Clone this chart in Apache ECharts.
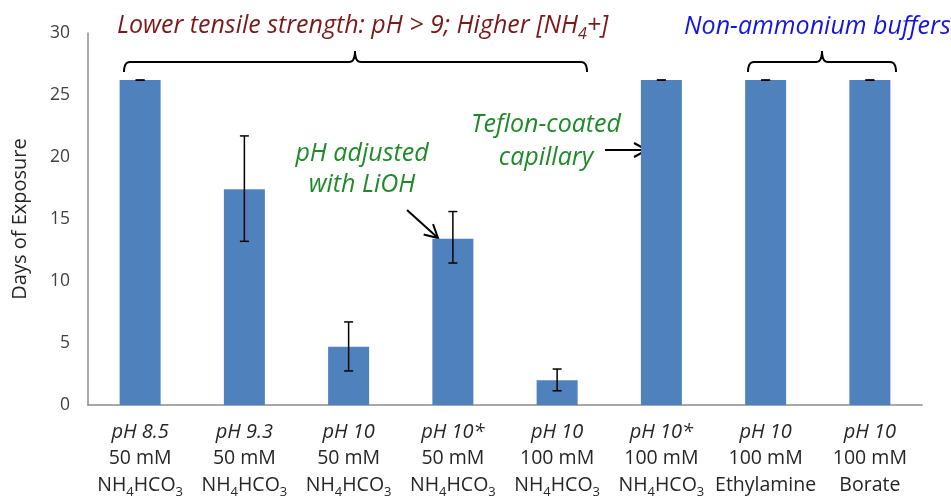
<!DOCTYPE html>
<html><head><meta charset="utf-8">
<script src="https://cdn.jsdelivr.net/npm/echarts@6/dist/echarts.min.js"></script>
<style>html,body{margin:0;padding:0;background:#fff}#c{width:951px;height:496px}</style>
</head><body><div id="c"></div>
<script>
const phLabels = ['pH 8.5','pH 9.3','pH 10','pH 10*','pH 10','pH 10*','pH 10','pH 10'];
const concLabels = ['50 mM','50 mM','50 mM','50 mM','100 mM','100 mM','100 mM','100 mM'];
const bufferLabels = ['NH4HCO3','NH4HCO3','NH4HCO3','NH4HCO3','NH4HCO3','NH4HCO3','Ethylamine','Borate'];
const days = [26.2, 17.4, 4.7, 13.4, 2.0, 26.2, 26.2, 26.2];
const errLow = [26.2, 13.2, 2.75, 11.45, 1.15, 26.2, 26.2, 26.2];
const errHigh = [26.2, 21.7, 6.7, 15.6, 2.9, 26.2, 26.2, 26.2];
const yTicks = [0, 5, 10, 15, 20, 25, 30];

const FONT = '"Open Sans", Lato, sans-serif';
const categories = phLabels.map((p, i) => p + '|' + i);

function bufferRich(b) {
  if (b === 'NH4HCO3') return '{n|NH}{s|4}{n|HCO}{s|3}';
  return '{n|' + b + '}';
}

const chart = echarts.init(document.getElementById('c'), null, {renderer: 'canvas'});

function arrow(x1, y1, x2, y2) {
  const dx = x2 - x1, dy = y2 - y1, L = Math.hypot(dx, dy);
  const ux = dx / L, uy = dy / L, px = -uy, py = ux;
  const hl = 13, hw = 7;
  return [
    {type: 'line', shape: {x1, y1, x2, y2}, style: {stroke: '#000', lineWidth: 2}},
    {type: 'polyline', shape: {points: [[x2 - ux*hl + px*hw, y2 - uy*hl + py*hw], [x2, y2], [x2 - ux*hl - px*hw, y2 - uy*hl - py*hw]]},
     style: {stroke: '#000', lineWidth: 2, fill: null}}
  ];
}
function quad(p0, c, p1, n) {
  const pts = [];
  for (let k = 0; k <= n; k++) {
    const t = k / n, a = (1-t)*(1-t), b = 2*(1-t)*t, d = t*t;
    pts.push([a*p0[0] + b*c[0] + d*p1[0], a*p0[1] + b*c[1] + d*p1[1]]);
  }
  return pts;
}
function brace(xa, xb, xm, yl, yt, ye) {
  const pts = [].concat(
    quad([xa, ye], [xa, yl], [xa+6, yl], 8),
    quad([xm-6, yl], [xm, yl], [xm, yt], 8),
    quad([xm, yt], [xm, yl], [xm+6, yl], 8),
    quad([xb-6, yl], [xb, yl], [xb, ye], 8)
  );
  return {type: 'polyline', shape: {points: pts}, style: {stroke: '#000', lineWidth: 2, fill: null}};
}
function txt(text, x, y, color, align, extra) {
  return {type: 'text', style: Object.assign({
    text, x, y, fill: color, fontSize: 25, fontStyle: 'italic', fontFamily: FONT,
    align: align, textAlign: align, verticalAlign: 'middle', textVerticalAlign: 'middle', lineHeight: 31
  }, extra || {})};
}

const option = {
  animation: false,
  backgroundColor: '#fff',
  grid: {left: 88, right: 29, top: 33, bottom: 91, containLabel: false, outerBoundsMode: 'none'},
  xAxis: {
    type: 'category',
    data: categories,
    axisLine: {lineStyle: {color: '#8c8c8c', width: 1.5}},
    axisTick: {show: false},
    axisLabel: {
      interval: 0, margin: 14,
      formatter: (v, i) => '{i|' + phLabels[i] + '}\n{n|' + concLabels[i] + '}\n' + bufferRich(bufferLabels[i]),
      rich: {
        i: {fontSize: 20, fontStyle: 'italic', fontFamily: FONT, color: '#262626', lineHeight: 26.5},
        n: {fontSize: 19.5, fontFamily: FONT, color: '#262626', lineHeight: 26.5},
        s: {fontSize: 13, fontFamily: FONT, color: '#262626', lineHeight: 15, verticalAlign: 'bottom'}
      }
    }
  },
  yAxis: {
    type: 'value', min: yTicks[0], max: yTicks[yTicks.length-1], interval: 5,
    name: 'Days of Exposure', nameLocation: 'middle', nameGap: 58, nameRotate: 90,
    nameTextStyle: {fontSize: 20, fontFamily: FONT, color: '#262626'},
    axisLine: {show: true, lineStyle: {color: '#8c8c8c', width: 1.5}},
    axisTick: {show: false},
    splitLine: {show: false},
    axisLabel: {fontSize: 17.5, fontFamily: FONT, color: '#404040', margin: 18}
  },
  series: [
    {type: 'bar', data: days, barWidth: 41, itemStyle: {color: '#4f81bd'}},
    {type: 'custom', data: days.map((d, i) => [i, errLow[i], errHigh[i]]), z: 5,
     renderItem: (params, api) => {
       const x = api.value(0);
       const lo = api.coord([x, api.value(1)]), hi = api.coord([x, api.value(2)]);
       const hw = 4.5, st = {stroke: '#000', lineWidth: 1.5};
       return {type: 'group', children: [
         {type: 'line', shape: {x1: hi[0], y1: hi[1], x2: lo[0], y2: lo[1]}, style: st},
         {type: 'line', shape: {x1: hi[0]-hw, y1: hi[1], x2: hi[0]+hw, y2: hi[1]}, style: st},
         {type: 'line', shape: {x1: lo[0]-hw, y1: lo[1], x2: lo[0]+hw, y2: lo[1]}, style: st}
       ]};
     }}
  ],
  graphic: [
    txt('{a|Lower tensile strength: pH > 9; Higher [NH}{b|4}{a|+]}', 117, 26, '#7a1a1a', 'left', {
      rich: {
        a: {fontSize: 25, fontStyle: 'italic', fontFamily: FONT, color: '#7a1a1a', lineHeight: 32},
        b: {fontSize: 16, fontStyle: 'italic', fontFamily: FONT, color: '#7a1a1a', lineHeight: 18, verticalAlign: 'bottom'}
      }}),
    txt('Non-ammonium buffers', 684, 27, '#1515e0', 'left'),
    brace(124, 587, 355, 62, 51, 72),
    brace(748, 896, 822, 62, 51, 72),
    txt('pH adjusted\nwith LiOH', 362, 169, '#1f8a2a', 'center'),
    txt('Teflon-coated\ncapillary', 546, 141, '#1f8a2a', 'center', {lineHeight: 33}),
    ...arrow(407, 210, 438, 238),
    ...arrow(605, 150, 647, 150)
  ]
};
chart.setOption(option);
</script></body></html>
